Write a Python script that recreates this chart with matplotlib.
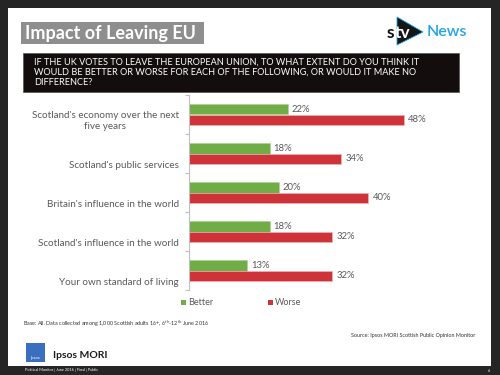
import matplotlib.pyplot as plt
from matplotlib.patches import Rectangle, Polygon
from matplotlib.transforms import ScaledTranslation

categories = [
    "Scotland's economy over the next\nfive years",
    "Scotland's public services",
    "Britain's influence in the world",
    "Scotland's influence in the world",
    "Your own standard of living",
]
better = [22, 18, 20, 18, 13]
worse = [48, 34, 40, 32, 32]
series_names = ["Better", "Worse"]

GREEN = "#70ad47"
RED = "#cd3339"
GREY_TXT = "#595959"

plt.rcParams['font.family'] = ['Lato', 'DejaVu Sans']

W, H = 500, 375
fig = plt.figure(figsize=(5, 3.75), dpi=100)
fig.patch.set_facecolor("#252525")


def fx(x):
    return x / W


def fy(y):
    return 1 - y / H


# white slide
fig.patches.append(Rectangle((fx(8), fy(366)), fx(483), 358 / H,
                             transform=fig.transFigure, facecolor="white",
                             edgecolor="none", zorder=-2))

# title box
fig.patches.append(Rectangle((fx(21), fy(44)), fx(183), 22 / H,
                             transform=fig.transFigure, facecolor="#8e8e8e",
                             edgecolor="none", zorder=1))
fig.text(fx(25), fy(33.5), "Impact of Leaving EU", color="white",
         fontsize=13, fontweight="bold", va="center", ha="left")

# question box
fig.patches.append(Rectangle((fx(23), fy(92)), fx(436), 39 / H,
                             transform=fig.transFigure, facecolor="#140d0d",
                             edgecolor="#555555", linewidth=0.5, zorder=1))
question = ("IF THE UK VOTES TO LEAVE THE EUROPEAN UNION, TO WHAT EXTENT DO YOU THINK IT\n"
            "WOULD BE BETTER OR WORSE FOR EACH OF THE FOLLOWING, OR WOULD IT MAKE NO\n"
            "DIFFERENCE?")
fig.text(fx(34), fy(72.5), question, color="white", fontsize=6.6,
         va="center", ha="left", linespacing=1.2)

# stv news logo
fig.patches.append(Polygon([(fx(397), fy(17)), (fx(397), fy(45)), (fx(423), fy(32))],
                           transform=fig.transFigure, facecolor="#161616",
                           edgecolor="#1ea5e6", linewidth=0.6, zorder=2))
fig.text(fx(387), fy(33), "s", color="#111111", fontsize=12.5,
         fontweight="bold", va="center", ha="left", zorder=3)
fig.text(fx(395), fy(33), "tv", color="white", fontsize=12.5,
         fontweight="bold", va="center", ha="left", zorder=3)
fig.text(fx(427), fy(32.5), "News", color="#1ea5e6", fontsize=11.5,
         fontweight=600, va="center", ha="left")

# chart
ax = fig.add_axes([fx(189), fy(290), 269 / W, 195 / H])
ax.patch.set_alpha(0)
y = list(range(len(categories)))
bh = 0.28
ax.barh([i - bh / 2 for i in y], better, height=bh, color=GREEN,
        edgecolor="#a9d18e", linewidth=0.4, label=series_names[0])
ax.barh([i + bh / 2 for i in y], worse, height=bh, color=RED,
        edgecolor="#f4b6b9", linewidth=0.4, label=series_names[1])
for i in y:
    ax.text(better[i] + 0.9, i - bh / 2, f"{better[i]}%", color=GREY_TXT,
            fontsize=6.8, va="center", ha="left")
    ax.text(worse[i] + 0.9, i + bh / 2, f"{worse[i]}%", color=GREY_TXT,
            fontsize=6.8, va="center", ha="left")

ax.set_xlim(0, 60)
ax.set_ylim(4.5, -0.5)
ax.set_xticks([])
ax.set_yticks([i - 0.5 for i in range(len(categories) + 1)])
ax.set_yticklabels([])
ax.tick_params(axis="y", length=3, color="#bfbfbf", width=0.8)
for s in ["top", "right", "bottom"]:
    ax.spines[s].set_visible(False)
ax.spines["left"].set_color("#bfbfbf")
ax.spines["left"].set_linewidth(0.8)

off = ScaledTranslation(-10 / 100, 0, fig.dpi_scale_trans)
for i, c in enumerate(categories):
    ax.text(0, i + 0.42, c, transform=ax.transData + off, ha="right",
            va="bottom", fontsize=7.1, color=GREY_TXT, multialignment="center",
            linespacing=1.2)

# legend
fig.patches.append(Rectangle((fx(181), fy(305)), fx(5), 5 / H,
                             transform=fig.transFigure, facecolor=GREEN, zorder=3))
fig.text(fx(188), fy(302.5), series_names[0], fontsize=6.5, color=GREY_TXT,
         va="center", ha="left")
fig.patches.append(Rectangle((fx(268), fy(305)), fx(5), 5 / H,
                             transform=fig.transFigure, facecolor=RED, zorder=3))
fig.text(fx(275), fy(302.5), series_names[1], fontsize=6.5, color=GREY_TXT,
         va="center", ha="left")

# footnotes
fig.text(fx(23), fy(323.5), "Base: All. Data collected among 1,000 Scottish adults 16+, 6$^{th}$-12$^{th}$ June 2016",
         fontsize=3.9, color="#333333", va="center", ha="left")
fig.text(fx(475), fy(335), "Source: Ipsos MORI Scottish Public Opinion Monitor",
         fontsize=3.9, color="#333333", va="center", ha="right")

# ipsos logo
fig.patches.append(Rectangle((fx(26), fy(362)), fx(19), 19 / H,
                             transform=fig.transFigure, facecolor="#3a6fbf",
                             edgecolor="none", zorder=3))
fig.text(fx(35.5), fy(357.5), "Ipsos", fontsize=3.2, color="white",
         va="center", ha="center", zorder=4)
fig.text(fx(53), fy(355), "Ipsos MORI", fontsize=7.5, color="#1a1a1a",
         fontweight="bold", va="center", ha="left")

# bottom strip
fig.text(fx(25), fy(370.5), "Political Monitor | June 2016 | Final | Public",
         fontsize=2.8, color="white", va="center", ha="left")
fig.text(fx(490), fy(370.5), "6", fontsize=2.8, color="white",
         va="center", ha="right")

fig.savefig("out.png", dpi=100, facecolor=fig.get_facecolor())
